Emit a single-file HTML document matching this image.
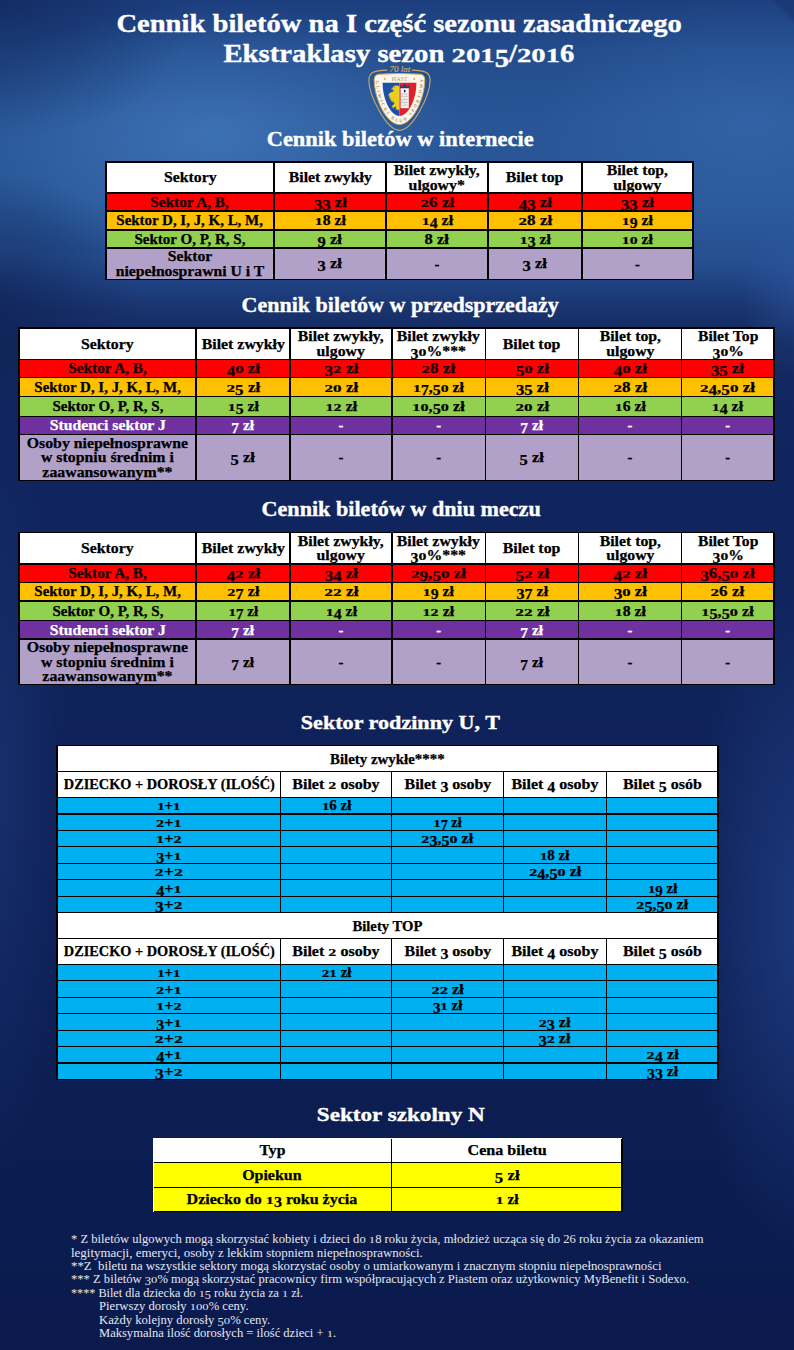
<!DOCTYPE html>
<html><head><meta charset="utf-8"><style>
html,body{margin:0;padding:0}
body{width:794px;height:1350px;position:relative;overflow:hidden;font-family:"Liberation Serif", serif;background:#0f2055;
}
.c{position:absolute;box-sizing:border-box;display:flex;align-items:center;justify-content:center;text-align:center;font-weight:bold;overflow:visible;-webkit-text-stroke:0.25px currentColor}
.c span{display:inline-block;white-space:nowrap}
.l{position:absolute}
.dx{display:inline-block;line-height:1em;transform:scaleY(.72);transform-origin:50% 83.75%}
.dd{display:inline-block;line-height:1em;transform:translateY(.2em)}
.t{position:absolute;font-weight:bold}
.bgl{position:absolute;left:0;top:0;width:794px;height:1350px}
</style></head><body>
<div class="bgl" style="background:linear-gradient(180deg,#1c3e7e 0px,#234c8c 50px,#285596 120px,#295797 200px,#264f90 260px,#1f4181 285px,#19336d 310px,#14295f 340px,#10255f 450px,#0f2259 700px,#0d1f55 1000px,#0a1a4d 1350px)"></div>
<div class="bgl" style="background:radial-gradient(ellipse 250px 130px at 215px 135px,rgba(80,140,210,0.5),rgba(80,140,210,0) 100%)"></div>
<div class="bgl" style="background:radial-gradient(ellipse 210px 130px at 750px 120px,rgba(70,125,195,0.33),rgba(70,125,195,0) 100%)"></div>
<div class="bgl" style="background:radial-gradient(ellipse 200px 140px at 0px 0px,rgba(12,30,80,0.55),rgba(12,30,80,0) 100%)"></div>
<div class="bgl" style="background:radial-gradient(ellipse 140px 130px at 0px 300px,rgba(12,30,80,0.6),rgba(12,30,80,0) 100%)"></div>
<div class="bgl" style="background:radial-gradient(ellipse 60px 90px at 800px 290px,rgba(50,95,170,0.45),rgba(50,95,170,0) 100%)"></div>
<div class="bgl" style="background:radial-gradient(ellipse 130px 340px at 810px 920px,rgba(45,85,165,0.5),rgba(45,85,165,0) 100%)"></div>
<div class="bgl" style="background:radial-gradient(ellipse 80px 380px at -10px 800px,rgba(40,75,150,0.35),rgba(40,75,150,0) 100%)"></div>
<div class="bgl" style="background:linear-gradient(225deg,rgba(22,48,105,0.5) 0px,rgba(22,48,105,0.5) 12px,rgba(22,48,105,0) 18px)"></div>

<svg style="position:absolute;left:360px;top:60px" width="80" height="75" viewBox="360 60 80 75">
<defs><path id="arc" d="M 375.9,80.5 C 375.9,97 386.4,121.6 399.5,122.4 C 412.6,121.6 423.1,97 423.1,80.5"/></defs>
<path d="M 387.2,70.1 Q 376.5,70.5 372.6,72.4 Q 369,74.3 368.9,80.5 C 369,95 386,130.2 399.5,130.4 C 413,130.2 430,95 430.1,80.5 Q 430,74.3 426.4,72.4 Q 422.5,70.5 411.8,70.1" fill="none" stroke="#cdaa62" stroke-width="1.1"/>
<text x="399.8" y="71.8" font-family="Liberation Serif" font-style="italic" font-size="9" fill="#d2ae66" stroke="#d2ae66" stroke-width="0.15" text-anchor="middle">70 lat</text>
<path d="M 379,74.2 Q 399.5,72.8 420,74.2 Q 424.8,74.8 424.8,79.5 C 424.8,98 413,124.4 399.5,124.6 C 386,124.4 374.2,98 374.2,79.5 Q 374.2,74.8 379,74.2 Z" fill="#fbf7ec" stroke="#cdaa62" stroke-width="1"/>
<text x="399.5" y="80.9" font-family="Liberation Serif" font-size="5.4" fill="#b89255" text-anchor="middle" letter-spacing="0.15">PIAST</text>
<polygon points="384.80,77.40 385.17,78.39 386.23,78.44 385.40,79.09 385.68,80.11 384.80,79.53 383.92,80.11 384.20,79.09 383.37,78.44 384.43,78.39" fill="#b89255"/>
<polygon points="414.20,77.40 414.57,78.39 415.63,78.44 414.80,79.09 415.08,80.11 414.20,79.53 413.32,80.11 413.60,79.09 412.77,78.44 413.83,78.39" fill="#b89255"/>
<text font-family="Liberation Serif" font-size="4.4" font-weight="bold" fill="#b48c4c"><textPath href="#arc" startOffset="0" textLength="104" lengthAdjust="spacing">GLIWICKI KLUB SPORTOWY</textPath></text>
<path d="M 382.6,82.8 L 399.5,82.8 L 399.5,116 C 391,116 382.6,100 382.6,82.8 Z" fill="#1f50a8"/>
<path d="M 399.5,82.8 L 416.4,82.8 C 416.4,100 408,116 399.5,116 Z" fill="#e3202a"/>
<g fill="#eacf22">
<path d="M 399.4,86.4 L 397.6,85.6 C 396.4,85.2 394.8,85.4 393.8,86.2 C 393,86.8 392.6,87.6 392.5,88.2 L 390.6,88.9 L 392.6,89.5 C 392.9,90.3 393.6,90.8 394.4,91 L 393,91.6 L 390.6,92.4 L 389,93.8 L 388.2,95.8 L 389.8,95.4 L 388.6,97.6 L 390.4,97.2 L 389.4,99.6 L 391.2,99 L 390.6,101.4 L 392.4,100.6 L 392.4,102.8 L 393.8,101.8 L 394.4,103.6 L 393.2,105.2 L 391.8,105.6 L 392.6,106.4 L 391.6,107.6 L 393,107.4 L 393.2,108.6 L 394.4,107.2 L 395.4,106.2 L 396.2,107.8 L 395.6,109.6 L 397.2,109.2 L 397.6,110.6 L 398.4,109.4 L 399.4,110.8 Z"/>
</g>
<circle cx="394.6" cy="87.6" r="0.45" fill="#1f50a8"/>
<rect x="400.6" y="87.6" width="8.2" height="20.6" fill="#f4f4f4"/>
<path d="M 400.1,88.2 L 400.1,85.8 L 401.7,85.8 L 401.7,86.8 L 403.1,86.8 L 403.1,85 L 404.7,83.9 L 406.3,85 L 406.3,86.8 L 407.7,86.8 L 407.7,85.8 L 409.3,85.8 L 409.3,88.2 Z" fill="#1d3c8c"/>
<rect x="403.9" y="89.8" width="1.6" height="2.6" rx="0.8" fill="#1a1a1a"/>
<g fill="#b5b5b5"><rect x="401.2" y="93.6" width="7" height="0.7"/><rect x="401.2" y="96.4" width="7" height="0.7"/><rect x="401.2" y="99.2" width="7" height="0.7"/><rect x="401.2" y="102" width="7" height="0.7"/><rect x="401.2" y="104.8" width="7" height="0.7"/></g>
<g fill="#c4c4c4"><rect x="402.4" y="94.3" width="0.6" height="2.1"/><rect x="405.6" y="94.3" width="0.6" height="2.1"/><rect x="404" y="97.1" width="0.6" height="2.1"/><rect x="402.4" y="99.9" width="0.6" height="2.1"/><rect x="405.6" y="99.9" width="0.6" height="2.1"/><rect x="404" y="102.7" width="0.6" height="2.1"/></g>
</svg>

<div class="t" style="left:19.50px;top:10.21px;width:760px;font-size:25.2px;line-height:28.98px;color:#fff;font-weight:bold;text-align:center;-webkit-text-stroke:0.35px #fff"><span style="display:inline-block;transform:scaleX(1.135);white-space:pre">Cennik biletów na I część sezonu zasadniczego</span></div><div class="t" style="left:19.00px;top:39.60px;width:760px;font-size:25.2px;line-height:28.98px;color:#fff;font-weight:bold;text-align:center;-webkit-text-stroke:0.35px #fff"><span style="display:inline-block;transform:scaleX(1.14);white-space:pre">Ekstraklasy sezon <span class="dx">2</span><span class="dx">0</span><span class="dx">1</span><span class="dd">5</span>/<span class="dx">2</span><span class="dx">0</span><span class="dx">1</span>6</span></div><div class="t" style="left:20.50px;top:128.45px;width:760px;font-size:20px;line-height:23.0px;color:#fff;font-weight:bold;text-align:center;-webkit-text-stroke:0.35px #fff"><span style="display:inline-block;transform:scaleX(1.12);white-space:pre">Cennik biletów w internecie</span></div><div class="t" style="left:20.20px;top:293.95px;width:760px;font-size:20px;line-height:23.0px;color:#fff;font-weight:bold;text-align:center;-webkit-text-stroke:0.35px #fff"><span style="display:inline-block;transform:scaleX(1.1);white-space:pre">Cennik biletów w przedsprzedaży</span></div><div class="t" style="left:21.10px;top:498.05px;width:760px;font-size:20px;line-height:23.0px;color:#fff;font-weight:bold;text-align:center;-webkit-text-stroke:0.35px #fff"><span style="display:inline-block;transform:scaleX(1.107);white-space:pre">Cennik biletów w dniu meczu</span></div><div class="t" style="left:20.50px;top:712.08px;width:760px;font-size:19.2px;line-height:22.08px;color:#fff;font-weight:bold;text-align:center;-webkit-text-stroke:0.35px #fff"><span style="display:inline-block;transform:scaleX(1.153);white-space:pre">Sektor rodzinny U, T</span></div><div class="t" style="left:21.00px;top:1104.11px;width:760px;font-size:19.5px;line-height:22.42px;color:#fff;font-weight:bold;text-align:center;-webkit-text-stroke:0.35px #fff"><span style="display:inline-block;transform:scaleX(1.187);white-space:pre">Sektor szkolny N</span></div><div class="c" style="left:106.00px;top:162.00px;width:168.00px;height:31.00px;background:#ffffff;color:#000;font-size:14.6px;line-height:14.4px"><span style="transform:scaleX(1.081)">Sektory</span></div><div class="c" style="left:274.00px;top:162.00px;width:112.00px;height:31.00px;background:#ffffff;color:#000;font-size:14.6px;line-height:14.4px"><span style="transform:scaleX(1.086)">Bilet zwykły</span></div><div class="c" style="left:386.00px;top:162.00px;width:102.00px;height:31.00px;background:#ffffff;color:#000;font-size:14.6px;line-height:14.4px"><span style="transform:scaleX(1.083)">Bilet zwykły,<br>ulgowy*</span></div><div class="c" style="left:488.00px;top:162.00px;width:94.00px;height:31.00px;background:#ffffff;color:#000;font-size:14.6px;line-height:14.4px"><span style="transform:scaleX(1.087)">Bilet top</span></div><div class="c" style="left:582.00px;top:162.00px;width:111.00px;height:31.00px;background:#ffffff;color:#000;font-size:14.6px;line-height:14.4px"><span style="transform:scaleX(1.081)">Bilet top,<br>ulgowy</span></div><div class="c" style="left:106.00px;top:193.00px;width:168.00px;height:18.00px;background:#ff0000;color:#120000;font-size:14.6px;line-height:14.4px"><span style="transform:scaleX(1.044)">Sektor A, B,</span></div><div class="c" style="left:274.00px;top:193.00px;width:112.00px;height:18.00px;background:#ff0000;color:#120000;font-size:14.6px;line-height:14.4px"><span style="transform:scaleX(1.147)"><span class="dd">3</span><span class="dd">3</span> zł</span></div><div class="c" style="left:386.00px;top:193.00px;width:102.00px;height:18.00px;background:#ff0000;color:#120000;font-size:14.6px;line-height:14.4px"><span style="transform:scaleX(1.167)"><span class="dx">2</span>6 zł</span></div><div class="c" style="left:488.00px;top:193.00px;width:94.00px;height:18.00px;background:#ff0000;color:#120000;font-size:14.6px;line-height:14.4px"><span style="transform:scaleX(1.157)"><span class="dd">4</span><span class="dd">3</span> zł</span></div><div class="c" style="left:582.00px;top:193.00px;width:111.00px;height:18.00px;background:#ff0000;color:#120000;font-size:14.6px;line-height:14.4px"><span style="transform:scaleX(1.147)"><span class="dd">3</span><span class="dd">3</span> zł</span></div><div class="c" style="left:106.00px;top:211.00px;width:168.00px;height:19.00px;background:#ffc000;color:#000;font-size:14.6px;line-height:14.4px"><span style="transform:scaleX(1.023)">Sektor D, I, J, K, L, M,</span></div><div class="c" style="left:274.00px;top:211.00px;width:112.00px;height:19.00px;background:#ffc000;color:#000;font-size:14.6px;line-height:14.4px"><span style="transform:scaleX(1.081)"><span class="dx">1</span>8 zł</span></div><div class="c" style="left:386.00px;top:211.00px;width:102.00px;height:19.00px;background:#ffc000;color:#000;font-size:14.6px;line-height:14.4px"><span style="transform:scaleX(1.091)"><span class="dx">1</span><span class="dd">4</span> zł</span></div><div class="c" style="left:488.00px;top:211.00px;width:94.00px;height:19.00px;background:#ffc000;color:#000;font-size:14.6px;line-height:14.4px"><span style="transform:scaleX(1.167)"><span class="dx">2</span>8 zł</span></div><div class="c" style="left:582.00px;top:211.00px;width:111.00px;height:19.00px;background:#ffc000;color:#000;font-size:14.6px;line-height:14.4px"><span style="transform:scaleX(1.081)"><span class="dx">1</span><span class="dd">9</span> zł</span></div><div class="c" style="left:106.00px;top:230.00px;width:168.00px;height:18.00px;background:#92d050;color:#000;font-size:14.6px;line-height:14.4px"><span style="transform:scaleX(1.030)">Sektor O, P, R, S,</span></div><div class="c" style="left:274.00px;top:230.00px;width:112.00px;height:18.00px;background:#92d050;color:#000;font-size:14.6px;line-height:14.4px"><span style="transform:scaleX(1.129)"><span class="dd">9</span> zł</span></div><div class="c" style="left:386.00px;top:230.00px;width:102.00px;height:18.00px;background:#92d050;color:#000;font-size:14.6px;line-height:14.4px"><span style="transform:scaleX(1.129)">8 zł</span></div><div class="c" style="left:488.00px;top:230.00px;width:94.00px;height:18.00px;background:#92d050;color:#000;font-size:14.6px;line-height:14.4px"><span style="transform:scaleX(1.081)"><span class="dx">1</span><span class="dd">3</span> zł</span></div><div class="c" style="left:582.00px;top:230.00px;width:111.00px;height:18.00px;background:#92d050;color:#000;font-size:14.6px;line-height:14.4px"><span style="transform:scaleX(1.081)"><span class="dx">1</span><span class="dx">0</span> zł</span></div><div class="c" style="left:106.00px;top:248.00px;width:168.00px;height:31.50px;background:#b1a0c7;color:#000;font-size:14.6px;line-height:14.4px"><span style="transform:scaleX(1.076)">Sektor<br>niepełnosprawni U i T</span></div><div class="c" style="left:274.00px;top:248.00px;width:112.00px;height:31.50px;background:#b1a0c7;color:#000;font-size:14.6px;line-height:14.4px"><span style="transform:scaleX(1.129)"><span class="dd">3</span> zł</span></div><div class="c" style="left:386.00px;top:248.00px;width:102.00px;height:31.50px;background:#b1a0c7;color:#000;font-size:14.6px;line-height:14.4px"><span style="transform:scaleX(1.000)">-</span></div><div class="c" style="left:488.00px;top:248.00px;width:94.00px;height:31.50px;background:#b1a0c7;color:#000;font-size:14.6px;line-height:14.4px"><span style="transform:scaleX(1.129)"><span class="dd">3</span> zł</span></div><div class="c" style="left:582.00px;top:248.00px;width:111.00px;height:31.50px;background:#b1a0c7;color:#000;font-size:14.6px;line-height:14.4px"><span style="transform:scaleX(1.000)">-</span></div><div class="l" style="left:105.35px;top:161.35px;width:588.30px;height:1.3px;background:#000"></div><div class="l" style="left:105.35px;top:192.35px;width:588.30px;height:1.3px;background:#000"></div><div class="l" style="left:105.35px;top:210.35px;width:588.30px;height:1.3px;background:#000"></div><div class="l" style="left:105.35px;top:229.35px;width:588.30px;height:1.3px;background:#000"></div><div class="l" style="left:105.35px;top:247.35px;width:588.30px;height:1.3px;background:#000"></div><div class="l" style="left:105.35px;top:278.85px;width:588.30px;height:1.3px;background:#000"></div><div class="l" style="left:105.35px;top:162.00px;width:1.3px;height:117.50px;background:#000"></div><div class="l" style="left:273.35px;top:162.00px;width:1.3px;height:117.50px;background:#000"></div><div class="l" style="left:385.35px;top:162.00px;width:1.3px;height:117.50px;background:#000"></div><div class="l" style="left:487.35px;top:162.00px;width:1.3px;height:117.50px;background:#000"></div><div class="l" style="left:581.35px;top:162.00px;width:1.3px;height:117.50px;background:#000"></div><div class="l" style="left:692.35px;top:162.00px;width:1.3px;height:117.50px;background:#000"></div><div class="c" style="left:19.00px;top:328.00px;width:177.00px;height:31.50px;background:#ffffff;color:#000;font-size:14.6px;line-height:14.4px"><span style="transform:scaleX(1.081)">Sektory</span></div><div class="c" style="left:196.00px;top:328.00px;width:94.00px;height:31.50px;background:#ffffff;color:#000;font-size:14.6px;line-height:14.4px"><span style="transform:scaleX(1.086)">Bilet zwykły</span></div><div class="c" style="left:290.00px;top:328.00px;width:102.00px;height:31.50px;background:#ffffff;color:#000;font-size:14.6px;line-height:14.4px"><span style="transform:scaleX(1.083)">Bilet zwykły,<br>ulgowy</span></div><div class="c" style="left:392.00px;top:328.00px;width:93.50px;height:31.50px;background:#ffffff;color:#000;font-size:14.6px;line-height:14.4px"><span style="transform:scaleX(1.086)">Bilet zwykły<br><span class="dd">3</span><span class="dx">0</span>%***</span></div><div class="c" style="left:485.50px;top:328.00px;width:93.00px;height:31.50px;background:#ffffff;color:#000;font-size:14.6px;line-height:14.4px"><span style="transform:scaleX(1.087)">Bilet top</span></div><div class="c" style="left:578.50px;top:328.00px;width:103.00px;height:31.50px;background:#ffffff;color:#000;font-size:14.6px;line-height:14.4px"><span style="transform:scaleX(1.081)">Bilet top,<br>ulgowy</span></div><div class="c" style="left:681.50px;top:328.00px;width:92.50px;height:31.50px;background:#ffffff;color:#000;font-size:14.6px;line-height:14.4px"><span style="transform:scaleX(1.070)">Bilet Top<br><span class="dd">3</span><span class="dx">0</span>%</span></div><div class="c" style="left:19.00px;top:359.50px;width:177.00px;height:18.20px;background:#ff0000;color:#120000;font-size:14.6px;line-height:14.4px"><span style="transform:scaleX(1.044)">Sektor A, B,</span></div><div class="c" style="left:196.00px;top:359.50px;width:94.00px;height:18.20px;background:#ff0000;color:#120000;font-size:14.6px;line-height:14.4px"><span style="transform:scaleX(1.157)"><span class="dd">4</span><span class="dx">0</span> zł</span></div><div class="c" style="left:290.00px;top:359.50px;width:102.00px;height:18.20px;background:#ff0000;color:#120000;font-size:14.6px;line-height:14.4px"><span style="transform:scaleX(1.167)"><span class="dd">3</span><span class="dx">2</span> zł</span></div><div class="c" style="left:392.00px;top:359.50px;width:93.50px;height:18.20px;background:#ff0000;color:#120000;font-size:14.6px;line-height:14.4px"><span style="transform:scaleX(1.167)"><span class="dx">2</span>8 zł</span></div><div class="c" style="left:485.50px;top:359.50px;width:93.00px;height:18.20px;background:#ff0000;color:#120000;font-size:14.6px;line-height:14.4px"><span style="transform:scaleX(1.147)"><span class="dd">5</span><span class="dx">0</span> zł</span></div><div class="c" style="left:578.50px;top:359.50px;width:103.00px;height:18.20px;background:#ff0000;color:#120000;font-size:14.6px;line-height:14.4px"><span style="transform:scaleX(1.157)"><span class="dd">4</span><span class="dx">0</span> zł</span></div><div class="c" style="left:681.50px;top:359.50px;width:92.50px;height:18.20px;background:#ff0000;color:#120000;font-size:14.6px;line-height:14.4px"><span style="transform:scaleX(1.147)"><span class="dd">3</span><span class="dd">5</span> zł</span></div><div class="c" style="left:19.00px;top:377.70px;width:177.00px;height:18.90px;background:#ffc000;color:#000;font-size:14.6px;line-height:14.4px"><span style="transform:scaleX(1.023)">Sektor D, I, J, K, L, M,</span></div><div class="c" style="left:196.00px;top:377.70px;width:94.00px;height:18.90px;background:#ffc000;color:#000;font-size:14.6px;line-height:14.4px"><span style="transform:scaleX(1.167)"><span class="dx">2</span><span class="dd">5</span> zł</span></div><div class="c" style="left:290.00px;top:377.70px;width:102.00px;height:18.90px;background:#ffc000;color:#000;font-size:14.6px;line-height:14.4px"><span style="transform:scaleX(1.167)"><span class="dx">2</span><span class="dx">0</span> zł</span></div><div class="c" style="left:392.00px;top:377.70px;width:93.50px;height:18.90px;background:#ffc000;color:#000;font-size:14.6px;line-height:14.4px"><span style="transform:scaleX(1.081)"><span class="dx">1</span><span class="dd">7</span>,<span class="dd">5</span><span class="dx">0</span> zł</span></div><div class="c" style="left:485.50px;top:377.70px;width:93.00px;height:18.90px;background:#ffc000;color:#000;font-size:14.6px;line-height:14.4px"><span style="transform:scaleX(1.147)"><span class="dd">3</span><span class="dd">5</span> zł</span></div><div class="c" style="left:578.50px;top:377.70px;width:103.00px;height:18.90px;background:#ffc000;color:#000;font-size:14.6px;line-height:14.4px"><span style="transform:scaleX(1.167)"><span class="dx">2</span>8 zł</span></div><div class="c" style="left:681.50px;top:377.70px;width:92.50px;height:18.90px;background:#ffc000;color:#000;font-size:14.6px;line-height:14.4px"><span style="transform:scaleX(1.171)"><span class="dx">2</span><span class="dd">4</span>,<span class="dd">5</span><span class="dx">0</span> zł</span></div><div class="c" style="left:19.00px;top:396.60px;width:177.00px;height:19.60px;background:#92d050;color:#000;font-size:14.6px;line-height:14.4px"><span style="transform:scaleX(1.030)">Sektor O, P, R, S,</span></div><div class="c" style="left:196.00px;top:396.60px;width:94.00px;height:19.60px;background:#92d050;color:#000;font-size:14.6px;line-height:14.4px"><span style="transform:scaleX(1.081)"><span class="dx">1</span><span class="dd">5</span> zł</span></div><div class="c" style="left:290.00px;top:396.60px;width:102.00px;height:19.60px;background:#92d050;color:#000;font-size:14.6px;line-height:14.4px"><span style="transform:scaleX(1.101)"><span class="dx">1</span><span class="dx">2</span> zł</span></div><div class="c" style="left:392.00px;top:396.60px;width:93.50px;height:19.60px;background:#92d050;color:#000;font-size:14.6px;line-height:14.4px"><span style="transform:scaleX(1.112)"><span class="dx">1</span><span class="dx">0</span>,<span class="dd">5</span><span class="dx">0</span> zł</span></div><div class="c" style="left:485.50px;top:396.60px;width:93.00px;height:19.60px;background:#92d050;color:#000;font-size:14.6px;line-height:14.4px"><span style="transform:scaleX(1.167)"><span class="dx">2</span><span class="dx">0</span> zł</span></div><div class="c" style="left:578.50px;top:396.60px;width:103.00px;height:19.60px;background:#92d050;color:#000;font-size:14.6px;line-height:14.4px"><span style="transform:scaleX(1.081)"><span class="dx">1</span>6 zł</span></div><div class="c" style="left:681.50px;top:396.60px;width:92.50px;height:19.60px;background:#92d050;color:#000;font-size:14.6px;line-height:14.4px"><span style="transform:scaleX(1.091)"><span class="dx">1</span><span class="dd">4</span> zł</span></div><div class="c" style="left:19.00px;top:416.20px;width:177.00px;height:18.40px;background:#7030a0;color:#fff;font-size:14.6px;line-height:14.4px"><span style="transform:scaleX(1.079)">Studenci sektor J</span></div><div class="c" style="left:196.00px;top:416.20px;width:94.00px;height:18.40px;background:#7030a0;color:#fff;font-size:14.6px;line-height:14.4px"><span style="transform:scaleX(1.061)"><span class="dd">7</span> zł</span></div><div class="c" style="left:290.00px;top:416.20px;width:102.00px;height:18.40px;background:#7030a0;color:#fff;font-size:14.6px;line-height:14.4px"><span style="transform:scaleX(1.000)">-</span></div><div class="c" style="left:392.00px;top:416.20px;width:93.50px;height:18.40px;background:#7030a0;color:#fff;font-size:14.6px;line-height:14.4px"><span style="transform:scaleX(1.000)">-</span></div><div class="c" style="left:485.50px;top:416.20px;width:93.00px;height:18.40px;background:#7030a0;color:#fff;font-size:14.6px;line-height:14.4px"><span style="transform:scaleX(1.061)"><span class="dd">7</span> zł</span></div><div class="c" style="left:578.50px;top:416.20px;width:103.00px;height:18.40px;background:#7030a0;color:#fff;font-size:14.6px;line-height:14.4px"><span style="transform:scaleX(1.000)">-</span></div><div class="c" style="left:681.50px;top:416.20px;width:92.50px;height:18.40px;background:#7030a0;color:#fff;font-size:14.6px;line-height:14.4px"><span style="transform:scaleX(1.000)">-</span></div><div class="c" style="left:19.00px;top:434.60px;width:177.00px;height:45.60px;background:#b1a0c7;color:#000;font-size:14.6px;line-height:14.4px"><span style="transform:scaleX(1.084)">Osoby niepełnosprawne<br>w stopniu średnim i<br>zaawansowanym**</span></div><div class="c" style="left:196.00px;top:434.60px;width:94.00px;height:45.60px;background:#b1a0c7;color:#000;font-size:14.6px;line-height:14.4px"><span style="transform:scaleX(1.129)"><span class="dd">5</span> zł</span></div><div class="c" style="left:290.00px;top:434.60px;width:102.00px;height:45.60px;background:#b1a0c7;color:#000;font-size:14.6px;line-height:14.4px"><span style="transform:scaleX(1.000)">-</span></div><div class="c" style="left:392.00px;top:434.60px;width:93.50px;height:45.60px;background:#b1a0c7;color:#000;font-size:14.6px;line-height:14.4px"><span style="transform:scaleX(1.000)">-</span></div><div class="c" style="left:485.50px;top:434.60px;width:93.00px;height:45.60px;background:#b1a0c7;color:#000;font-size:14.6px;line-height:14.4px"><span style="transform:scaleX(1.129)"><span class="dd">5</span> zł</span></div><div class="c" style="left:578.50px;top:434.60px;width:103.00px;height:45.60px;background:#b1a0c7;color:#000;font-size:14.6px;line-height:14.4px"><span style="transform:scaleX(1.000)">-</span></div><div class="c" style="left:681.50px;top:434.60px;width:92.50px;height:45.60px;background:#b1a0c7;color:#000;font-size:14.6px;line-height:14.4px"><span style="transform:scaleX(1.000)">-</span></div><div class="l" style="left:18.35px;top:327.35px;width:756.30px;height:1.3px;background:#000"></div><div class="l" style="left:18.35px;top:358.85px;width:756.30px;height:1.3px;background:#000"></div><div class="l" style="left:18.35px;top:377.05px;width:756.30px;height:1.3px;background:#000"></div><div class="l" style="left:18.35px;top:395.95px;width:756.30px;height:1.3px;background:#000"></div><div class="l" style="left:18.35px;top:415.55px;width:756.30px;height:1.3px;background:#000"></div><div class="l" style="left:18.35px;top:433.95px;width:756.30px;height:1.3px;background:#000"></div><div class="l" style="left:18.35px;top:479.55px;width:756.30px;height:1.3px;background:#000"></div><div class="l" style="left:18.35px;top:328.00px;width:1.3px;height:152.20px;background:#000"></div><div class="l" style="left:195.35px;top:328.00px;width:1.3px;height:152.20px;background:#000"></div><div class="l" style="left:289.35px;top:328.00px;width:1.3px;height:152.20px;background:#000"></div><div class="l" style="left:391.35px;top:328.00px;width:1.3px;height:152.20px;background:#000"></div><div class="l" style="left:484.85px;top:328.00px;width:1.3px;height:152.20px;background:#000"></div><div class="l" style="left:577.85px;top:328.00px;width:1.3px;height:152.20px;background:#000"></div><div class="l" style="left:680.85px;top:328.00px;width:1.3px;height:152.20px;background:#000"></div><div class="l" style="left:773.35px;top:328.00px;width:1.3px;height:152.20px;background:#000"></div><div class="c" style="left:19.00px;top:532.50px;width:177.00px;height:31.50px;background:#ffffff;color:#000;font-size:14.6px;line-height:14.4px"><span style="transform:scaleX(1.081)">Sektory</span></div><div class="c" style="left:196.00px;top:532.50px;width:94.00px;height:31.50px;background:#ffffff;color:#000;font-size:14.6px;line-height:14.4px"><span style="transform:scaleX(1.086)">Bilet zwykły</span></div><div class="c" style="left:290.00px;top:532.50px;width:102.00px;height:31.50px;background:#ffffff;color:#000;font-size:14.6px;line-height:14.4px"><span style="transform:scaleX(1.083)">Bilet zwykły,<br>ulgowy</span></div><div class="c" style="left:392.00px;top:532.50px;width:93.50px;height:31.50px;background:#ffffff;color:#000;font-size:14.6px;line-height:14.4px"><span style="transform:scaleX(1.086)">Bilet zwykły<br><span class="dd">3</span><span class="dx">0</span>%***</span></div><div class="c" style="left:485.50px;top:532.50px;width:93.00px;height:31.50px;background:#ffffff;color:#000;font-size:14.6px;line-height:14.4px"><span style="transform:scaleX(1.087)">Bilet top</span></div><div class="c" style="left:578.50px;top:532.50px;width:103.00px;height:31.50px;background:#ffffff;color:#000;font-size:14.6px;line-height:14.4px"><span style="transform:scaleX(1.081)">Bilet top,<br>ulgowy</span></div><div class="c" style="left:681.50px;top:532.50px;width:92.50px;height:31.50px;background:#ffffff;color:#000;font-size:14.6px;line-height:14.4px"><span style="transform:scaleX(1.070)">Bilet Top<br><span class="dd">3</span><span class="dx">0</span>%</span></div><div class="c" style="left:19.00px;top:564.00px;width:177.00px;height:18.20px;background:#ff0000;color:#120000;font-size:14.6px;line-height:14.4px"><span style="transform:scaleX(1.044)">Sektor A, B,</span></div><div class="c" style="left:196.00px;top:564.00px;width:94.00px;height:18.20px;background:#ff0000;color:#120000;font-size:14.6px;line-height:14.4px"><span style="transform:scaleX(1.178)"><span class="dd">4</span><span class="dx">2</span> zł</span></div><div class="c" style="left:290.00px;top:564.00px;width:102.00px;height:18.20px;background:#ff0000;color:#120000;font-size:14.6px;line-height:14.4px"><span style="transform:scaleX(1.157)"><span class="dd">3</span><span class="dd">4</span> zł</span></div><div class="c" style="left:392.00px;top:564.00px;width:93.50px;height:18.20px;background:#ff0000;color:#120000;font-size:14.6px;line-height:14.4px"><span style="transform:scaleX(1.165)"><span class="dx">2</span><span class="dd">9</span>,<span class="dd">5</span><span class="dx">0</span> zł</span></div><div class="c" style="left:485.50px;top:564.00px;width:93.00px;height:18.20px;background:#ff0000;color:#120000;font-size:14.6px;line-height:14.4px"><span style="transform:scaleX(1.167)"><span class="dd">5</span><span class="dx">2</span> zł</span></div><div class="c" style="left:578.50px;top:564.00px;width:103.00px;height:18.20px;background:#ff0000;color:#120000;font-size:14.6px;line-height:14.4px"><span style="transform:scaleX(1.178)"><span class="dd">4</span><span class="dx">2</span> zł</span></div><div class="c" style="left:681.50px;top:564.00px;width:92.50px;height:18.20px;background:#ff0000;color:#120000;font-size:14.6px;line-height:14.4px"><span style="transform:scaleX(1.152)"><span class="dd">3</span>6,<span class="dd">5</span><span class="dx">0</span> zł</span></div><div class="c" style="left:19.00px;top:582.20px;width:177.00px;height:18.90px;background:#ffc000;color:#000;font-size:14.6px;line-height:14.4px"><span style="transform:scaleX(1.023)">Sektor D, I, J, K, L, M,</span></div><div class="c" style="left:196.00px;top:582.20px;width:94.00px;height:18.90px;background:#ffc000;color:#000;font-size:14.6px;line-height:14.4px"><span style="transform:scaleX(1.117)"><span class="dx">2</span><span class="dd">7</span> zł</span></div><div class="c" style="left:290.00px;top:582.20px;width:102.00px;height:18.90px;background:#ffc000;color:#000;font-size:14.6px;line-height:14.4px"><span style="transform:scaleX(1.188)"><span class="dx">2</span><span class="dx">2</span> zł</span></div><div class="c" style="left:392.00px;top:582.20px;width:93.50px;height:18.90px;background:#ffc000;color:#000;font-size:14.6px;line-height:14.4px"><span style="transform:scaleX(1.081)"><span class="dx">1</span><span class="dd">9</span> zł</span></div><div class="c" style="left:485.50px;top:582.20px;width:93.00px;height:18.90px;background:#ffc000;color:#000;font-size:14.6px;line-height:14.4px"><span style="transform:scaleX(1.096)"><span class="dd">3</span><span class="dd">7</span> zł</span></div><div class="c" style="left:578.50px;top:582.20px;width:103.00px;height:18.90px;background:#ffc000;color:#000;font-size:14.6px;line-height:14.4px"><span style="transform:scaleX(1.147)"><span class="dd">3</span><span class="dx">0</span> zł</span></div><div class="c" style="left:681.50px;top:582.20px;width:92.50px;height:18.90px;background:#ffc000;color:#000;font-size:14.6px;line-height:14.4px"><span style="transform:scaleX(1.167)"><span class="dx">2</span>6 zł</span></div><div class="c" style="left:19.00px;top:601.10px;width:177.00px;height:19.60px;background:#92d050;color:#000;font-size:14.6px;line-height:14.4px"><span style="transform:scaleX(1.030)">Sektor O, P, R, S,</span></div><div class="c" style="left:196.00px;top:601.10px;width:94.00px;height:19.60px;background:#92d050;color:#000;font-size:14.6px;line-height:14.4px"><span style="transform:scaleX(1.030)"><span class="dx">1</span><span class="dd">7</span> zł</span></div><div class="c" style="left:290.00px;top:601.10px;width:102.00px;height:19.60px;background:#92d050;color:#000;font-size:14.6px;line-height:14.4px"><span style="transform:scaleX(1.091)"><span class="dx">1</span><span class="dd">4</span> zł</span></div><div class="c" style="left:392.00px;top:601.10px;width:93.50px;height:19.60px;background:#92d050;color:#000;font-size:14.6px;line-height:14.4px"><span style="transform:scaleX(1.101)"><span class="dx">1</span><span class="dx">2</span> zł</span></div><div class="c" style="left:485.50px;top:601.10px;width:93.00px;height:19.60px;background:#92d050;color:#000;font-size:14.6px;line-height:14.4px"><span style="transform:scaleX(1.188)"><span class="dx">2</span><span class="dx">2</span> zł</span></div><div class="c" style="left:578.50px;top:601.10px;width:103.00px;height:19.60px;background:#92d050;color:#000;font-size:14.6px;line-height:14.4px"><span style="transform:scaleX(1.081)"><span class="dx">1</span>8 zł</span></div><div class="c" style="left:681.50px;top:601.10px;width:92.50px;height:19.60px;background:#92d050;color:#000;font-size:14.6px;line-height:14.4px"><span style="transform:scaleX(1.112)"><span class="dx">1</span><span class="dd">5</span>,<span class="dd">5</span><span class="dx">0</span> zł</span></div><div class="c" style="left:19.00px;top:620.70px;width:177.00px;height:18.40px;background:#7030a0;color:#fff;font-size:14.6px;line-height:14.4px"><span style="transform:scaleX(1.079)">Studenci sektor J</span></div><div class="c" style="left:196.00px;top:620.70px;width:94.00px;height:18.40px;background:#7030a0;color:#fff;font-size:14.6px;line-height:14.4px"><span style="transform:scaleX(1.061)"><span class="dd">7</span> zł</span></div><div class="c" style="left:290.00px;top:620.70px;width:102.00px;height:18.40px;background:#7030a0;color:#fff;font-size:14.6px;line-height:14.4px"><span style="transform:scaleX(1.000)">-</span></div><div class="c" style="left:392.00px;top:620.70px;width:93.50px;height:18.40px;background:#7030a0;color:#fff;font-size:14.6px;line-height:14.4px"><span style="transform:scaleX(1.000)">-</span></div><div class="c" style="left:485.50px;top:620.70px;width:93.00px;height:18.40px;background:#7030a0;color:#fff;font-size:14.6px;line-height:14.4px"><span style="transform:scaleX(1.061)"><span class="dd">7</span> zł</span></div><div class="c" style="left:578.50px;top:620.70px;width:103.00px;height:18.40px;background:#7030a0;color:#fff;font-size:14.6px;line-height:14.4px"><span style="transform:scaleX(1.000)">-</span></div><div class="c" style="left:681.50px;top:620.70px;width:92.50px;height:18.40px;background:#7030a0;color:#fff;font-size:14.6px;line-height:14.4px"><span style="transform:scaleX(1.000)">-</span></div><div class="c" style="left:19.00px;top:639.10px;width:177.00px;height:45.60px;background:#b1a0c7;color:#000;font-size:14.6px;line-height:14.4px"><span style="transform:scaleX(1.084)">Osoby niepełnosprawne<br>w stopniu średnim i<br>zaawansowanym**</span></div><div class="c" style="left:196.00px;top:639.10px;width:94.00px;height:45.60px;background:#b1a0c7;color:#000;font-size:14.6px;line-height:14.4px"><span style="transform:scaleX(1.061)"><span class="dd">7</span> zł</span></div><div class="c" style="left:290.00px;top:639.10px;width:102.00px;height:45.60px;background:#b1a0c7;color:#000;font-size:14.6px;line-height:14.4px"><span style="transform:scaleX(1.000)">-</span></div><div class="c" style="left:392.00px;top:639.10px;width:93.50px;height:45.60px;background:#b1a0c7;color:#000;font-size:14.6px;line-height:14.4px"><span style="transform:scaleX(1.000)">-</span></div><div class="c" style="left:485.50px;top:639.10px;width:93.00px;height:45.60px;background:#b1a0c7;color:#000;font-size:14.6px;line-height:14.4px"><span style="transform:scaleX(1.061)"><span class="dd">7</span> zł</span></div><div class="c" style="left:578.50px;top:639.10px;width:103.00px;height:45.60px;background:#b1a0c7;color:#000;font-size:14.6px;line-height:14.4px"><span style="transform:scaleX(1.000)">-</span></div><div class="c" style="left:681.50px;top:639.10px;width:92.50px;height:45.60px;background:#b1a0c7;color:#000;font-size:14.6px;line-height:14.4px"><span style="transform:scaleX(1.000)">-</span></div><div class="l" style="left:18.35px;top:531.85px;width:756.30px;height:1.3px;background:#000"></div><div class="l" style="left:18.35px;top:563.35px;width:756.30px;height:1.3px;background:#000"></div><div class="l" style="left:18.35px;top:581.55px;width:756.30px;height:1.3px;background:#000"></div><div class="l" style="left:18.35px;top:600.45px;width:756.30px;height:1.3px;background:#000"></div><div class="l" style="left:18.35px;top:620.05px;width:756.30px;height:1.3px;background:#000"></div><div class="l" style="left:18.35px;top:638.45px;width:756.30px;height:1.3px;background:#000"></div><div class="l" style="left:18.35px;top:684.05px;width:756.30px;height:1.3px;background:#000"></div><div class="l" style="left:18.35px;top:532.50px;width:1.3px;height:152.20px;background:#000"></div><div class="l" style="left:195.35px;top:532.50px;width:1.3px;height:152.20px;background:#000"></div><div class="l" style="left:289.35px;top:532.50px;width:1.3px;height:152.20px;background:#000"></div><div class="l" style="left:391.35px;top:532.50px;width:1.3px;height:152.20px;background:#000"></div><div class="l" style="left:484.85px;top:532.50px;width:1.3px;height:152.20px;background:#000"></div><div class="l" style="left:577.85px;top:532.50px;width:1.3px;height:152.20px;background:#000"></div><div class="l" style="left:680.85px;top:532.50px;width:1.3px;height:152.20px;background:#000"></div><div class="l" style="left:773.35px;top:532.50px;width:1.3px;height:152.20px;background:#000"></div><div class="c" style="left:57.00px;top:745.70px;width:661.00px;height:25.80px;background:#ffffff;color:#000;font-size:13.6px;line-height:14.4px"><span style="position:relative;top:1.3px;transform:scaleX(1.096)">Bilety zwykłe****</span></div><div class="c" style="left:57.00px;top:771.50px;width:223.70px;height:26.10px;background:#ffffff;color:#000;font-size:14.3px;line-height:14.4px"><span style="transform:scaleX(1.002)">DZIECKO + DOROSŁY (ILOŚĆ)</span></div><div class="c" style="left:280.70px;top:771.50px;width:111.00px;height:26.10px;background:#ffffff;color:#000;font-size:14.3px;line-height:14.4px"><span style="transform:scaleX(1.122)">Bilet <span class="dx">2</span> osoby</span></div><div class="c" style="left:391.70px;top:771.50px;width:111.90px;height:26.10px;background:#ffffff;color:#000;font-size:14.3px;line-height:14.4px"><span style="transform:scaleX(1.115)">Bilet <span class="dd">3</span> osoby</span></div><div class="c" style="left:503.60px;top:771.50px;width:102.80px;height:26.10px;background:#ffffff;color:#000;font-size:14.3px;line-height:14.4px"><span style="transform:scaleX(1.118)">Bilet <span class="dd">4</span> osoby</span></div><div class="c" style="left:606.40px;top:771.50px;width:111.60px;height:26.10px;background:#ffffff;color:#000;font-size:14.3px;line-height:14.4px"><span style="transform:scaleX(1.115)">Bilet <span class="dd">5</span> osób</span></div><div class="c" style="left:57.00px;top:797.60px;width:223.70px;height:16.43px;background:#00b0f0;color:#000;font-size:13.8px;line-height:14.4px"><span style="position:relative;top:0.8px;transform:scaleX(1.076)"><span class="dx">1</span>+<span class="dx">1</span></span></div><div class="c" style="left:280.70px;top:797.60px;width:111.00px;height:16.43px;background:#00b0f0;color:#000;font-size:13.8px;line-height:14.4px"><span style="position:relative;top:0.8px;transform:scaleX(1.081)"><span class="dx">1</span>6 zł</span></div><div class="c" style="left:391.70px;top:797.60px;width:111.90px;height:16.43px;background:#00b0f0;color:#000;font-size:13.8px;line-height:14.4px"></div><div class="c" style="left:503.60px;top:797.60px;width:102.80px;height:16.43px;background:#00b0f0;color:#000;font-size:13.8px;line-height:14.4px"></div><div class="c" style="left:606.40px;top:797.60px;width:111.60px;height:16.43px;background:#00b0f0;color:#000;font-size:13.8px;line-height:14.4px"></div><div class="c" style="left:57.00px;top:814.03px;width:223.70px;height:16.43px;background:#00b0f0;color:#000;font-size:13.8px;line-height:14.4px"><span style="position:relative;top:0.8px;transform:scaleX(1.185)"><span class="dx">2</span>+<span class="dx">1</span></span></div><div class="c" style="left:280.70px;top:814.03px;width:111.00px;height:16.43px;background:#00b0f0;color:#000;font-size:13.8px;line-height:14.4px"></div><div class="c" style="left:391.70px;top:814.03px;width:111.90px;height:16.43px;background:#00b0f0;color:#000;font-size:13.8px;line-height:14.4px"><span style="position:relative;top:0.8px;transform:scaleX(1.030)"><span class="dx">1</span><span class="dd">7</span> zł</span></div><div class="c" style="left:503.60px;top:814.03px;width:102.80px;height:16.43px;background:#00b0f0;color:#000;font-size:13.8px;line-height:14.4px"></div><div class="c" style="left:606.40px;top:814.03px;width:111.60px;height:16.43px;background:#00b0f0;color:#000;font-size:13.8px;line-height:14.4px"></div><div class="c" style="left:57.00px;top:830.46px;width:223.70px;height:16.43px;background:#00b0f0;color:#000;font-size:13.8px;line-height:14.4px"><span style="position:relative;top:0.8px;transform:scaleX(1.185)"><span class="dx">1</span>+<span class="dx">2</span></span></div><div class="c" style="left:280.70px;top:830.46px;width:111.00px;height:16.43px;background:#00b0f0;color:#000;font-size:13.8px;line-height:14.4px"></div><div class="c" style="left:391.70px;top:830.46px;width:111.90px;height:16.43px;background:#00b0f0;color:#000;font-size:13.8px;line-height:14.4px"><span style="position:relative;top:0.8px;transform:scaleX(1.165)"><span class="dx">2</span><span class="dd">3</span>,<span class="dd">5</span><span class="dx">0</span> zł</span></div><div class="c" style="left:503.60px;top:830.46px;width:102.80px;height:16.43px;background:#00b0f0;color:#000;font-size:13.8px;line-height:14.4px"></div><div class="c" style="left:606.40px;top:830.46px;width:111.60px;height:16.43px;background:#00b0f0;color:#000;font-size:13.8px;line-height:14.4px"></div><div class="c" style="left:57.00px;top:846.89px;width:223.70px;height:16.42px;background:#00b0f0;color:#000;font-size:13.8px;line-height:14.4px"><span style="position:relative;top:0.8px;transform:scaleX(1.159)"><span class="dd">3</span>+<span class="dx">1</span></span></div><div class="c" style="left:280.70px;top:846.89px;width:111.00px;height:16.42px;background:#00b0f0;color:#000;font-size:13.8px;line-height:14.4px"></div><div class="c" style="left:391.70px;top:846.89px;width:111.90px;height:16.42px;background:#00b0f0;color:#000;font-size:13.8px;line-height:14.4px"></div><div class="c" style="left:503.60px;top:846.89px;width:102.80px;height:16.42px;background:#00b0f0;color:#000;font-size:13.8px;line-height:14.4px"><span style="position:relative;top:0.8px;transform:scaleX(1.081)"><span class="dx">1</span>8 zł</span></div><div class="c" style="left:606.40px;top:846.89px;width:111.60px;height:16.42px;background:#00b0f0;color:#000;font-size:13.8px;line-height:14.4px"></div><div class="c" style="left:57.00px;top:863.31px;width:223.70px;height:16.43px;background:#00b0f0;color:#000;font-size:13.8px;line-height:14.4px"><span style="position:relative;top:0.8px;transform:scaleX(1.293)"><span class="dx">2</span>+<span class="dx">2</span></span></div><div class="c" style="left:280.70px;top:863.31px;width:111.00px;height:16.43px;background:#00b0f0;color:#000;font-size:13.8px;line-height:14.4px"></div><div class="c" style="left:391.70px;top:863.31px;width:111.90px;height:16.43px;background:#00b0f0;color:#000;font-size:13.8px;line-height:14.4px"></div><div class="c" style="left:503.60px;top:863.31px;width:102.80px;height:16.43px;background:#00b0f0;color:#000;font-size:13.8px;line-height:14.4px"><span style="position:relative;top:0.8px;transform:scaleX(1.171)"><span class="dx">2</span><span class="dd">4</span>,<span class="dd">5</span><span class="dx">0</span> zł</span></div><div class="c" style="left:606.40px;top:863.31px;width:111.60px;height:16.43px;background:#00b0f0;color:#000;font-size:13.8px;line-height:14.4px"></div><div class="c" style="left:57.00px;top:879.74px;width:223.70px;height:16.43px;background:#00b0f0;color:#000;font-size:13.8px;line-height:14.4px"><span style="position:relative;top:0.8px;transform:scaleX(1.172)"><span class="dd">4</span>+<span class="dx">1</span></span></div><div class="c" style="left:280.70px;top:879.74px;width:111.00px;height:16.43px;background:#00b0f0;color:#000;font-size:13.8px;line-height:14.4px"></div><div class="c" style="left:391.70px;top:879.74px;width:111.90px;height:16.43px;background:#00b0f0;color:#000;font-size:13.8px;line-height:14.4px"></div><div class="c" style="left:503.60px;top:879.74px;width:102.80px;height:16.43px;background:#00b0f0;color:#000;font-size:13.8px;line-height:14.4px"></div><div class="c" style="left:606.40px;top:879.74px;width:111.60px;height:16.43px;background:#00b0f0;color:#000;font-size:13.8px;line-height:14.4px"><span style="position:relative;top:0.8px;transform:scaleX(1.081)"><span class="dx">1</span><span class="dd">9</span> zł</span></div><div class="c" style="left:57.00px;top:896.17px;width:223.70px;height:16.43px;background:#00b0f0;color:#000;font-size:13.8px;line-height:14.4px"><span style="position:relative;top:0.8px;transform:scaleX(1.267)"><span class="dd">3</span>+<span class="dx">2</span></span></div><div class="c" style="left:280.70px;top:896.17px;width:111.00px;height:16.43px;background:#00b0f0;color:#000;font-size:13.8px;line-height:14.4px"></div><div class="c" style="left:391.70px;top:896.17px;width:111.90px;height:16.43px;background:#00b0f0;color:#000;font-size:13.8px;line-height:14.4px"></div><div class="c" style="left:503.60px;top:896.17px;width:102.80px;height:16.43px;background:#00b0f0;color:#000;font-size:13.8px;line-height:14.4px"></div><div class="c" style="left:606.40px;top:896.17px;width:111.60px;height:16.43px;background:#00b0f0;color:#000;font-size:13.8px;line-height:14.4px"><span style="position:relative;top:0.8px;transform:scaleX(1.165)"><span class="dx">2</span><span class="dd">5</span>,<span class="dd">5</span><span class="dx">0</span> zł</span></div><div class="l" style="left:56.30px;top:745.00px;width:662.40px;height:1.4px;background:#000"></div><div class="l" style="left:56.30px;top:770.80px;width:662.40px;height:1.4px;background:#000"></div><div class="l" style="left:56.30px;top:796.90px;width:662.40px;height:1.4px;background:#000"></div><div class="l" style="left:56.30px;top:813.45px;width:662.40px;height:1.15px;background:#000"></div><div class="l" style="left:56.30px;top:829.88px;width:662.40px;height:1.15px;background:#000"></div><div class="l" style="left:56.30px;top:846.31px;width:662.40px;height:1.15px;background:#000"></div><div class="l" style="left:56.30px;top:862.73px;width:662.40px;height:1.15px;background:#000"></div><div class="l" style="left:56.30px;top:879.16px;width:662.40px;height:1.15px;background:#000"></div><div class="l" style="left:56.30px;top:895.59px;width:662.40px;height:1.15px;background:#000"></div><div class="l" style="left:56.30px;top:911.90px;width:662.40px;height:1.4px;background:#000"></div><div class="l" style="left:56.30px;top:771.50px;width:1.4px;height:141.10px;background:#000"></div><div class="l" style="left:280.00px;top:771.50px;width:1.4px;height:141.10px;background:#000"></div><div class="l" style="left:391.00px;top:771.50px;width:1.4px;height:141.10px;background:#000"></div><div class="l" style="left:502.90px;top:771.50px;width:1.4px;height:141.10px;background:#000"></div><div class="l" style="left:605.70px;top:771.50px;width:1.4px;height:141.10px;background:#000"></div><div class="l" style="left:717.30px;top:771.50px;width:1.4px;height:141.10px;background:#000"></div><div class="l" style="left:56.30px;top:745.70px;width:1.4px;height:25.80px;background:#000"></div><div class="l" style="left:717.30px;top:745.70px;width:1.4px;height:25.80px;background:#000"></div><div class="c" style="left:57.00px;top:912.60px;width:661.00px;height:25.80px;background:#ffffff;color:#000;font-size:13.6px;line-height:14.4px"><span style="position:relative;top:1.3px;transform:scaleX(1.079)">Bilety TOP</span></div><div class="c" style="left:57.00px;top:938.40px;width:223.70px;height:26.10px;background:#ffffff;color:#000;font-size:14.3px;line-height:14.4px"><span style="transform:scaleX(1.002)">DZIECKO + DOROSŁY (ILOŚĆ)</span></div><div class="c" style="left:280.70px;top:938.40px;width:111.00px;height:26.10px;background:#ffffff;color:#000;font-size:14.3px;line-height:14.4px"><span style="transform:scaleX(1.122)">Bilet <span class="dx">2</span> osoby</span></div><div class="c" style="left:391.70px;top:938.40px;width:111.90px;height:26.10px;background:#ffffff;color:#000;font-size:14.3px;line-height:14.4px"><span style="transform:scaleX(1.115)">Bilet <span class="dd">3</span> osoby</span></div><div class="c" style="left:503.60px;top:938.40px;width:102.80px;height:26.10px;background:#ffffff;color:#000;font-size:14.3px;line-height:14.4px"><span style="transform:scaleX(1.118)">Bilet <span class="dd">4</span> osoby</span></div><div class="c" style="left:606.40px;top:938.40px;width:111.60px;height:26.10px;background:#ffffff;color:#000;font-size:14.3px;line-height:14.4px"><span style="transform:scaleX(1.115)">Bilet <span class="dd">5</span> osób</span></div><div class="c" style="left:57.00px;top:964.50px;width:223.70px;height:16.43px;background:#00b0f0;color:#000;font-size:13.8px;line-height:14.4px"><span style="position:relative;top:0.8px;transform:scaleX(1.076)"><span class="dx">1</span>+<span class="dx">1</span></span></div><div class="c" style="left:280.70px;top:964.50px;width:111.00px;height:16.43px;background:#00b0f0;color:#000;font-size:13.8px;line-height:14.4px"><span style="position:relative;top:0.8px;transform:scaleX(1.101)"><span class="dx">2</span><span class="dx">1</span> zł</span></div><div class="c" style="left:391.70px;top:964.50px;width:111.90px;height:16.43px;background:#00b0f0;color:#000;font-size:13.8px;line-height:14.4px"></div><div class="c" style="left:503.60px;top:964.50px;width:102.80px;height:16.43px;background:#00b0f0;color:#000;font-size:13.8px;line-height:14.4px"></div><div class="c" style="left:606.40px;top:964.50px;width:111.60px;height:16.43px;background:#00b0f0;color:#000;font-size:13.8px;line-height:14.4px"></div><div class="c" style="left:57.00px;top:980.93px;width:223.70px;height:16.43px;background:#00b0f0;color:#000;font-size:13.8px;line-height:14.4px"><span style="position:relative;top:0.8px;transform:scaleX(1.185)"><span class="dx">2</span>+<span class="dx">1</span></span></div><div class="c" style="left:280.70px;top:980.93px;width:111.00px;height:16.43px;background:#00b0f0;color:#000;font-size:13.8px;line-height:14.4px"></div><div class="c" style="left:391.70px;top:980.93px;width:111.90px;height:16.43px;background:#00b0f0;color:#000;font-size:13.8px;line-height:14.4px"><span style="position:relative;top:0.8px;transform:scaleX(1.188)"><span class="dx">2</span><span class="dx">2</span> zł</span></div><div class="c" style="left:503.60px;top:980.93px;width:102.80px;height:16.43px;background:#00b0f0;color:#000;font-size:13.8px;line-height:14.4px"></div><div class="c" style="left:606.40px;top:980.93px;width:111.60px;height:16.43px;background:#00b0f0;color:#000;font-size:13.8px;line-height:14.4px"></div><div class="c" style="left:57.00px;top:997.36px;width:223.70px;height:16.43px;background:#00b0f0;color:#000;font-size:13.8px;line-height:14.4px"><span style="position:relative;top:0.8px;transform:scaleX(1.185)"><span class="dx">1</span>+<span class="dx">2</span></span></div><div class="c" style="left:280.70px;top:997.36px;width:111.00px;height:16.43px;background:#00b0f0;color:#000;font-size:13.8px;line-height:14.4px"></div><div class="c" style="left:391.70px;top:997.36px;width:111.90px;height:16.43px;background:#00b0f0;color:#000;font-size:13.8px;line-height:14.4px"><span style="position:relative;top:0.8px;transform:scaleX(1.081)"><span class="dd">3</span><span class="dx">1</span> zł</span></div><div class="c" style="left:503.60px;top:997.36px;width:102.80px;height:16.43px;background:#00b0f0;color:#000;font-size:13.8px;line-height:14.4px"></div><div class="c" style="left:606.40px;top:997.36px;width:111.60px;height:16.43px;background:#00b0f0;color:#000;font-size:13.8px;line-height:14.4px"></div><div class="c" style="left:57.00px;top:1013.79px;width:223.70px;height:16.42px;background:#00b0f0;color:#000;font-size:13.8px;line-height:14.4px"><span style="position:relative;top:0.8px;transform:scaleX(1.159)"><span class="dd">3</span>+<span class="dx">1</span></span></div><div class="c" style="left:280.70px;top:1013.79px;width:111.00px;height:16.42px;background:#00b0f0;color:#000;font-size:13.8px;line-height:14.4px"></div><div class="c" style="left:391.70px;top:1013.79px;width:111.90px;height:16.42px;background:#00b0f0;color:#000;font-size:13.8px;line-height:14.4px"></div><div class="c" style="left:503.60px;top:1013.79px;width:102.80px;height:16.42px;background:#00b0f0;color:#000;font-size:13.8px;line-height:14.4px"><span style="position:relative;top:0.8px;transform:scaleX(1.167)"><span class="dx">2</span><span class="dd">3</span> zł</span></div><div class="c" style="left:606.40px;top:1013.79px;width:111.60px;height:16.42px;background:#00b0f0;color:#000;font-size:13.8px;line-height:14.4px"></div><div class="c" style="left:57.00px;top:1030.21px;width:223.70px;height:16.43px;background:#00b0f0;color:#000;font-size:13.8px;line-height:14.4px"><span style="position:relative;top:0.8px;transform:scaleX(1.293)"><span class="dx">2</span>+<span class="dx">2</span></span></div><div class="c" style="left:280.70px;top:1030.21px;width:111.00px;height:16.43px;background:#00b0f0;color:#000;font-size:13.8px;line-height:14.4px"></div><div class="c" style="left:391.70px;top:1030.21px;width:111.90px;height:16.43px;background:#00b0f0;color:#000;font-size:13.8px;line-height:14.4px"></div><div class="c" style="left:503.60px;top:1030.21px;width:102.80px;height:16.43px;background:#00b0f0;color:#000;font-size:13.8px;line-height:14.4px"><span style="position:relative;top:0.8px;transform:scaleX(1.167)"><span class="dd">3</span><span class="dx">2</span> zł</span></div><div class="c" style="left:606.40px;top:1030.21px;width:111.60px;height:16.43px;background:#00b0f0;color:#000;font-size:13.8px;line-height:14.4px"></div><div class="c" style="left:57.00px;top:1046.64px;width:223.70px;height:16.43px;background:#00b0f0;color:#000;font-size:13.8px;line-height:14.4px"><span style="position:relative;top:0.8px;transform:scaleX(1.172)"><span class="dd">4</span>+<span class="dx">1</span></span></div><div class="c" style="left:280.70px;top:1046.64px;width:111.00px;height:16.43px;background:#00b0f0;color:#000;font-size:13.8px;line-height:14.4px"></div><div class="c" style="left:391.70px;top:1046.64px;width:111.90px;height:16.43px;background:#00b0f0;color:#000;font-size:13.8px;line-height:14.4px"></div><div class="c" style="left:503.60px;top:1046.64px;width:102.80px;height:16.43px;background:#00b0f0;color:#000;font-size:13.8px;line-height:14.4px"></div><div class="c" style="left:606.40px;top:1046.64px;width:111.60px;height:16.43px;background:#00b0f0;color:#000;font-size:13.8px;line-height:14.4px"><span style="position:relative;top:0.8px;transform:scaleX(1.178)"><span class="dx">2</span><span class="dd">4</span> zł</span></div><div class="c" style="left:57.00px;top:1063.07px;width:223.70px;height:16.43px;background:#00b0f0;color:#000;font-size:13.8px;line-height:14.4px"><span style="position:relative;top:0.8px;transform:scaleX(1.267)"><span class="dd">3</span>+<span class="dx">2</span></span></div><div class="c" style="left:280.70px;top:1063.07px;width:111.00px;height:16.43px;background:#00b0f0;color:#000;font-size:13.8px;line-height:14.4px"></div><div class="c" style="left:391.70px;top:1063.07px;width:111.90px;height:16.43px;background:#00b0f0;color:#000;font-size:13.8px;line-height:14.4px"></div><div class="c" style="left:503.60px;top:1063.07px;width:102.80px;height:16.43px;background:#00b0f0;color:#000;font-size:13.8px;line-height:14.4px"></div><div class="c" style="left:606.40px;top:1063.07px;width:111.60px;height:16.43px;background:#00b0f0;color:#000;font-size:13.8px;line-height:14.4px"><span style="position:relative;top:0.8px;transform:scaleX(1.147)"><span class="dd">3</span><span class="dd">3</span> zł</span></div><div class="l" style="left:56.30px;top:911.90px;width:662.40px;height:1.4px;background:#000"></div><div class="l" style="left:56.30px;top:937.70px;width:662.40px;height:1.4px;background:#000"></div><div class="l" style="left:56.30px;top:963.80px;width:662.40px;height:1.4px;background:#000"></div><div class="l" style="left:56.30px;top:980.35px;width:662.40px;height:1.15px;background:#000"></div><div class="l" style="left:56.30px;top:996.78px;width:662.40px;height:1.15px;background:#000"></div><div class="l" style="left:56.30px;top:1013.21px;width:662.40px;height:1.15px;background:#000"></div><div class="l" style="left:56.30px;top:1029.63px;width:662.40px;height:1.15px;background:#000"></div><div class="l" style="left:56.30px;top:1046.07px;width:662.40px;height:1.15px;background:#000"></div><div class="l" style="left:56.30px;top:1062.49px;width:662.40px;height:1.15px;background:#000"></div><div class="l" style="left:56.30px;top:1078.80px;width:662.40px;height:1.4px;background:#000"></div><div class="l" style="left:56.30px;top:938.40px;width:1.4px;height:141.10px;background:#000"></div><div class="l" style="left:280.00px;top:938.40px;width:1.4px;height:141.10px;background:#000"></div><div class="l" style="left:391.00px;top:938.40px;width:1.4px;height:141.10px;background:#000"></div><div class="l" style="left:502.90px;top:938.40px;width:1.4px;height:141.10px;background:#000"></div><div class="l" style="left:605.70px;top:938.40px;width:1.4px;height:141.10px;background:#000"></div><div class="l" style="left:717.30px;top:938.40px;width:1.4px;height:141.10px;background:#000"></div><div class="l" style="left:56.30px;top:912.60px;width:1.4px;height:25.80px;background:#000"></div><div class="l" style="left:717.30px;top:912.60px;width:1.4px;height:25.80px;background:#000"></div><div class="c" style="left:153.00px;top:1138.00px;width:238.50px;height:24.60px;background:#ffffff;color:#000;font-size:13.9px;line-height:14.4px"><span style="position:relative;top:1.2px;transform:scaleX(1.128)">Typ</span></div><div class="c" style="left:391.50px;top:1138.00px;width:230.50px;height:24.60px;background:#ffffff;color:#000;font-size:13.9px;line-height:14.4px"><span style="position:relative;top:1.2px;transform:scaleX(1.158)">Cena biletu</span></div><div class="c" style="left:153.00px;top:1162.60px;width:238.50px;height:24.70px;background:#ffff00;color:#000;font-size:13.9px;line-height:14.4px"><span style="position:relative;top:1.2px;transform:scaleX(1.148)">Opiekun</span></div><div class="c" style="left:391.50px;top:1162.60px;width:230.50px;height:24.70px;background:#ffff00;color:#000;font-size:13.9px;line-height:14.4px"><span style="position:relative;top:1.2px;transform:scaleX(1.208)"><span class="dd">5</span> zł</span></div><div class="c" style="left:153.00px;top:1187.30px;width:238.50px;height:24.20px;background:#ffff00;color:#000;font-size:13.9px;line-height:14.4px"><span style="position:relative;top:1.2px;transform:scaleX(1.154)">Dziecko do <span class="dx">1</span><span class="dd">3</span> roku życia</span></div><div class="c" style="left:391.50px;top:1187.30px;width:230.50px;height:24.20px;background:#ffff00;color:#000;font-size:13.9px;line-height:14.4px"><span style="position:relative;top:1.2px;transform:scaleX(1.114)"><span class="dx">1</span> zł</span></div><div class="l" style="left:153.00px;top:1161.80px;width:469.80px;height:1.6px;background:#000"></div><div class="l" style="left:153.00px;top:1186.50px;width:469.80px;height:1.6px;background:#000"></div><div class="l" style="left:153.00px;top:1210.70px;width:469.80px;height:1.6px;background:#000"></div><div class="l" style="left:390.70px;top:1138.00px;width:1.6px;height:73.50px;background:#000"></div><div class="l" style="left:621.20px;top:1138.00px;width:1.6px;height:74.30px;background:#000"></div><div class="l" style="left:153.00px;top:1138.00px;width:469.00px;height:0.8px;background:#fff"></div><div class="l" style="left:153.00px;top:1138.00px;width:0.8px;height:73.50px;background:#fff"></div><div class="t" style="left:71px;top:1233.42px;font-size:11.8px;line-height:13px;color:#e4e7f0;font-weight:normal;white-space:pre"><span style="display:inline-block;transform:scaleX(1.067);transform-origin:left center">* Z biletów ulgowych mogą skorzystać kobiety i dzieci do <span class="dx">1</span>8 roku życia, młodzież ucząca się do 26 roku życia za okazaniem</span></div><div class="t" style="left:70.6px;top:1246.52px;font-size:11.8px;line-height:13px;color:#e4e7f0;font-weight:normal;white-space:pre"><span style="display:inline-block;transform:scaleX(1.097);transform-origin:left center">legitymacji, emeryci, osoby z lekkim stopniem niepełnosprawności.</span></div><div class="t" style="left:71px;top:1259.92px;font-size:11.8px;line-height:13px;color:#e4e7f0;font-weight:normal;white-space:pre"><span style="display:inline-block;transform:scaleX(1.087);transform-origin:left center">**Z  biletu na wszystkie sektory mogą skorzystać osoby o umiarkowanym i znacznym stopniu niepełnosprawności</span></div><div class="t" style="left:71px;top:1273.22px;font-size:11.8px;line-height:13px;color:#e4e7f0;font-weight:normal;white-space:pre"><span style="display:inline-block;transform:scaleX(1.067);transform-origin:left center">*** Z biletów <span class="dd">3</span><span class="dx">0</span>% mogą skorzystać pracownicy firm współpracujących z Piastem oraz użytkownicy MyBenefit i Sodexo.</span></div><div class="t" style="left:71px;top:1286.82px;font-size:11.8px;line-height:13px;color:#e4e7f0;font-weight:normal;white-space:pre"><span style="display:inline-block;transform:scaleX(1.034);transform-origin:left center">**** Bilet dla dziecka do <span class="dx">1</span><span class="dd">5</span> roku życia za <span class="dx">1</span> zł.</span></div><div class="t" style="left:99px;top:1300.22px;font-size:11.8px;line-height:13px;color:#e4e7f0;font-weight:normal;white-space:pre"><span style="display:inline-block;transform:scaleX(1.072);transform-origin:left center">Pierwszy dorosły <span class="dx">1</span><span class="dx">0</span><span class="dx">0</span>% ceny.</span></div><div class="t" style="left:99px;top:1314.02px;font-size:11.8px;line-height:13px;color:#e4e7f0;font-weight:normal;white-space:pre"><span style="display:inline-block;transform:scaleX(1.073);transform-origin:left center">Każdy kolejny dorosły <span class="dd">5</span><span class="dx">0</span>% ceny.</span></div><div class="t" style="left:99px;top:1327.12px;font-size:11.8px;line-height:13px;color:#e4e7f0;font-weight:normal;white-space:pre"><span style="display:inline-block;transform:scaleX(1.063);transform-origin:left center">Maksymalna ilość dorosłych = ilość dzieci + <span class="dx">1</span>.</span></div>
</body></html>
